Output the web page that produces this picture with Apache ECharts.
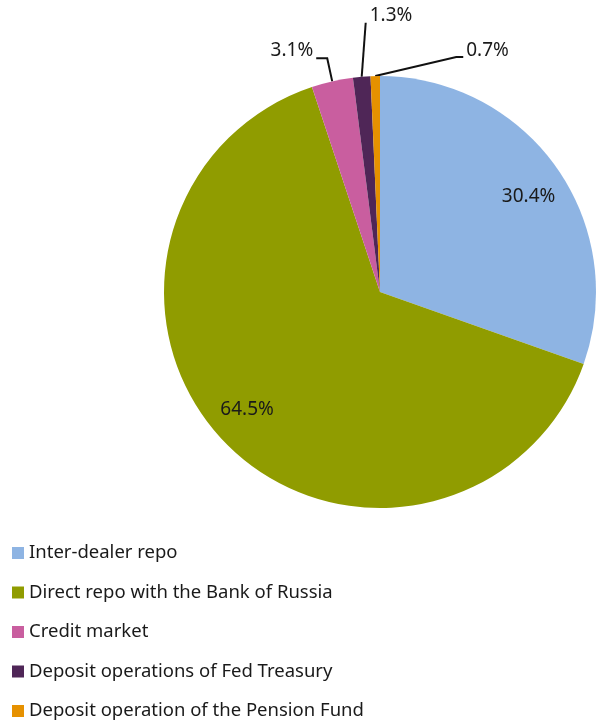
<!DOCTYPE html>
<html>
<head>
<meta charset="utf-8">
<script src="https://cdn.jsdelivr.net/npm/echarts@6/dist/echarts.min.js"></script>
<style>
  html, body { margin: 0; padding: 0; background: #fff; }
  #main { width: 604px; height: 722px; }
</style>
</head>
<body>
<div id="main"></div>
<script>
var names = ['Inter-dealer repo', 'Direct repo with the Bank of Russia', 'Credit market',
  'Deposit operations of Fed Treasury', 'Deposit operation of the Pension Fund'];
var shares = [30.4, 64.5, 3.1, 1.3, 0.7];
var colors = ['#8eb4e3', '#909c00', '#c95e9f', '#4f2657', '#e69100'];

// which slices get an outside label with a leader line
var outside = [false, false, true, true, true];

window.onload = function(){
  var chart = echarts.init(document.getElementById('main'));

  var font = '"Noto Sans", "Open Sans", sans-serif';

  var pieData = [];
  var labelData = [];
  for (var i = 0; i < names.length; i++) {
    pieData.push({
      name: names[i],
      value: shares[i],
      itemStyle: { color: colors[i] },
      label: { show: outside[i] },
      labelLine: { show: outside[i] }
    });
    labelData.push({
      name: names[i],
      value: shares[i],
      label: { show: !outside[i] }
    });
  }

  // offsets of the elbow, line end and label from the slice edge point
  var leader = {
    2: { elbow: [-5, -23], end: [-16, -23], text: [-19, -31], align: 'right' },
    3: { elbow: [4, -54], end: [4, -54], text: [8, -61], align: 'left' },
    4: { elbow: [81, -19], end: [88, -19], text: [91, -25], align: 'left' }
  };
  // small nudges of the inner labels
  var nudge = { 0: [0, 10], 1: [-3, -10] };

  var fmt = function(p){ return p.value.toFixed(1) + '%'; };

  var opt = {
    animation: false,
    color: colors,
    legend: {
      orient: 'vertical',
      left: 12,
      top: 543,
      height: 200,
      padding: 0,
      icon: 'rect',
      itemWidth: 12,
      itemHeight: 12,
      itemGap: 19.5,
      selectedMode: false,
      data: names,
      textStyle: { fontFamily: font, fontSize: 18.5, color: '#1a1a1a', lineHeight: 20 }
    },
    series: [{
      type: 'pie',
      center: [380, 292],
      radius: [0, 216],
      startAngle: 90,
      clockwise: true,
      avoidLabelOverlap: false,
      data: pieData,
      label: {
        position: 'outside',
        formatter: fmt,
        fontFamily: font,
        fontSize: 19,
        color: '#1a1a1a'
      },
      labelLine: {
        length: 20,
        length2: 10,
        lineStyle: { color: '#111', width: 2 }
      },
      labelLayout: function(p){
        var cfg = leader[p.dataIndex];
        if (!cfg || !p.labelLinePoints) return {};
        var s = p.labelLinePoints[0];
        return {
          x: s[0] + cfg.text[0],
          y: s[1] + cfg.text[1],
          align: cfg.align,
          verticalAlign: 'middle',
          labelLinePoints: [
            [s[0], s[1]],
            [s[0] + cfg.elbow[0], s[1] + cfg.elbow[1]],
            [s[0] + cfg.end[0], s[1] + cfg.end[1]]
          ]
        };
      }
    }, {
      // transparent ring that only carries the inner percentage labels
      type: 'pie',
      center: [380, 292],
      radius: [142, 216],
      startAngle: 90,
      clockwise: true,
      silent: true,
      data: labelData,
      itemStyle: { color: 'rgba(0,0,0,0)' },
      labelLine: { show: false },
      label: {
        position: 'inside',
        formatter: fmt,
        fontFamily: font,
        fontSize: 19,
        color: '#1a1a1a'
      },
      labelLayout: function(p){
        var n = nudge[p.dataIndex];
        return n ? { dx: n[0], dy: n[1] } : {};
      }
    }]
  };

  chart.setOption(opt);
};
</script>
</body>
</html>
